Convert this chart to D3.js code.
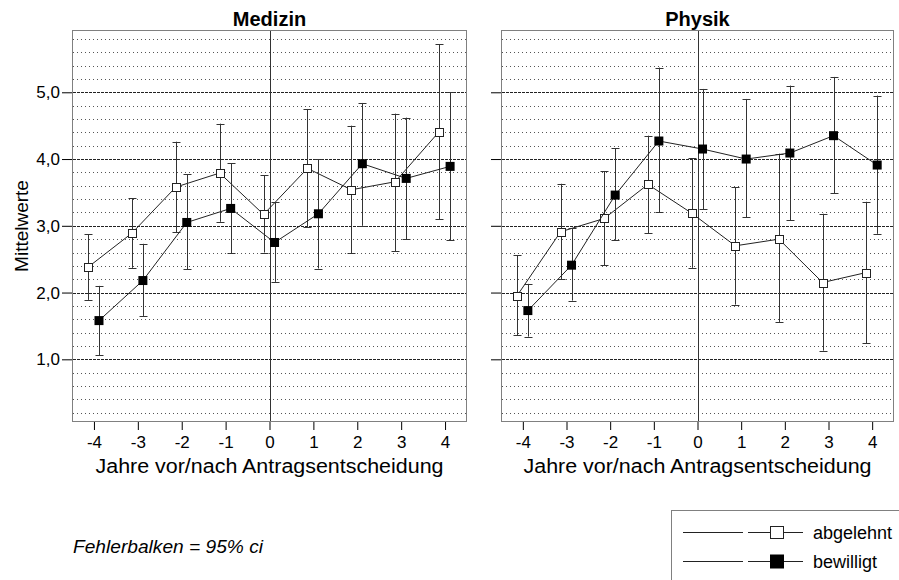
<!DOCTYPE html>
<html>
<head>
<meta charset="utf-8">
<script src="https://cdn.jsdelivr.net/npm/d3@7"></script>
<style>
  html, body { margin: 0; padding: 0; background: #fff; }
  svg { display: block; font-family: Arial, "Liberation Sans", sans-serif; }
</style>
</head>
<body>
<svg id="chart" width="899" height="580"></svg>
<script>
// ---------- data ----------
const years = [-4, -3, -2, -1, 0, 1, 2, 3, 4];
const yTicks = [1, 2, 3, 4, 5];
const yTickLabels = ["1,0", "2,0", "3,0", "4,0", "5,0"];
const panelTitles = ["Medizin", "Physik"];
const seriesNames = ["abgelehnt", "bewilligt"];

const medizinAbgelehnt   = [2.38, 2.89, 3.58, 3.79, 3.17, 3.86, 3.54, 3.66, 4.41];
const medizinAbgelehntLo = [1.89, 2.37, 2.90, 3.06, 2.60, 2.98, 2.59, 2.62, 3.10];
const medizinAbgelehntHi = [2.87, 3.41, 4.26, 4.53, 3.76, 4.75, 4.50, 4.68, 5.72];
const medizinBewilligt   = [1.58, 2.18, 3.05, 3.26, 2.75, 3.18, 3.93, 3.71, 3.89];
const medizinBewilligtLo = [1.06, 1.65, 2.35, 2.59, 2.16, 2.36, 3.00, 2.80, 2.78];
const medizinBewilligtHi = [2.10, 2.73, 3.77, 3.94, 3.35, 4.00, 4.84, 4.62, 5.00];

const physikAbgelehnt   = [1.95, 2.91, 3.11, 3.62, 3.19, 2.70, 2.80, 2.15, 2.30];
const physikAbgelehntLo = [1.36, 2.20, 2.41, 2.89, 2.37, 1.82, 1.56, 1.13, 1.24];
const physikAbgelehntHi = [2.56, 3.63, 3.82, 4.35, 4.01, 3.58, 4.08, 3.18, 3.36];
const physikBewilligt   = [1.73, 2.41, 3.46, 4.27, 4.15, 4.00, 4.09, 4.35, 3.91];
const physikBewilligtLo = [1.34, 1.88, 2.79, 3.20, 3.25, 3.13, 3.08, 3.49, 2.88];
const physikBewilligtHi = [2.13, 2.96, 4.16, 5.37, 5.05, 4.90, 5.10, 5.23, 4.95];

// ---------- layout ----------
const svg = d3.select("#chart");
const plotTop = 30, plotBottom = 422;
const panels = [
  { title: panelTitles[0], x0: 72, x1: 467,
    series: [
      { name: seriesNames[0], mean: medizinAbgelehnt, lo: medizinAbgelehntLo, hi: medizinAbgelehntHi, filled: false, off: -0.135 },
      { name: seriesNames[1], mean: medizinBewilligt, lo: medizinBewilligtLo, hi: medizinBewilligtHi, filled: true, off: 0.115 }
    ], labels: true },
  { title: panelTitles[1], x0: 501, x1: 894,
    series: [
      { name: seriesNames[0], mean: physikAbgelehnt, lo: physikAbgelehntLo, hi: physikAbgelehntHi, filled: false, off: -0.135 },
      { name: seriesNames[1], mean: physikBewilligt, lo: physikBewilligtLo, hi: physikBewilligtHi, filled: true, off: 0.115 }
    ], labels: false }
];

const y = d3.scaleLinear().domain([0.061, 5.933]).range([plotBottom, plotTop]);
const minorTicks = d3.range(1, 30).map(i => i / 5).filter(v => Math.abs(v - Math.round(v)) > 1e-6);

panels.forEach(p => {
  const x = d3.scaleLinear().domain([-4.5, 4.5]).range([p.x0, p.x1]);
  const g = svg.append("g");

  // minor grid
  g.selectAll(".minor").data(minorTicks).enter().append("line")
    .attr("x1", p.x0 + 1).attr("x2", p.x1 - 1)
    .attr("y1", d => Math.round(y(d)) + 0.5).attr("y2", d => Math.round(y(d)) + 0.5)
    .attr("stroke", "#555").attr("stroke-width", 1).attr("stroke-dasharray", "1,3");
  // major grid
  g.selectAll(".major").data(yTicks).enter().append("line")
    .attr("x1", p.x0 + 1).attr("x2", p.x1 - 1)
    .attr("y1", d => Math.round(y(d)) + 0.5).attr("y2", d => Math.round(y(d)) + 0.5)
    .attr("stroke", "#222").attr("stroke-width", 1).attr("stroke-dasharray", "3,1");

  // zero line
  g.append("line")
    .attr("x1", Math.round(x(0)) + 0.5).attr("x2", Math.round(x(0)) + 0.5)
    .attr("y1", plotTop).attr("y2", plotBottom)
    .attr("stroke", "#333").attr("stroke-width", 1);

  // frame
  g.append("rect")
    .attr("x", p.x0 + 0.5).attr("y", plotTop + 0.5)
    .attr("width", p.x1 - p.x0 - 1).attr("height", plotBottom - plotTop - 1)
    .attr("fill", "none").attr("stroke", "#808080").attr("stroke-width", 1);

  // x axis
  const xAxis = d3.axisBottom(x).tickValues(years).tickSize(8).tickPadding(6).tickFormat(d3.format("d"));
  const xa = g.append("g").attr("transform", `translate(0,${plotBottom})`).call(xAxis);
  xa.select(".domain").remove();
  xa.selectAll("line").attr("stroke", "#000");
  xa.selectAll("text").attr("font-size", 17).attr("fill", "#000")
    .text(d => d < 0 ? "-" + Math.abs(d) : d);

  // y axis
  const yAxis = d3.axisLeft(y).tickValues(yTicks).tickSize(10).tickPadding(2)
    .tickFormat((d, i) => p.labels ? yTickLabels[i] : "");
  const ya = g.append("g").attr("transform", `translate(${p.x0},0)`).call(yAxis);
  ya.select(".domain").remove();
  ya.selectAll("line").attr("stroke", "#000");
  ya.selectAll("text").attr("font-size", 17).attr("fill", "#000");

  // title
  g.append("text").attr("x", (p.x0 + p.x1) / 2).attr("y", 26)
    .attr("text-anchor", "middle").attr("font-size", 20).attr("font-weight", "bold")
    .text(p.title);

  // x axis title
  g.append("text").attr("x", (p.x0 + p.x1) / 2).attr("y", 473)
    .attr("text-anchor", "middle").attr("font-size", 20)
    .attr("textLength", 348).attr("lengthAdjust", "spacingAndGlyphs")
    .text("Jahre vor/nach Antragsentscheidung");

  // series
  p.series.forEach(s => {
    const pts = years.map((yr, i) => ({ x: x(yr + s.off), m: s.mean[i], lo: s.lo[i], hi: s.hi[i] }));
    const line = d3.line().x(d => d.x).y(d => y(d.m));
    g.append("path").datum(pts).attr("d", line)
      .attr("fill", "none").attr("stroke", "#222").attr("stroke-width", 1);

    const eb = g.append("g");
    pts.forEach(d => {
      const cx = Math.round(d.x) + 0.5;
      eb.append("line").attr("x1", cx).attr("x2", cx).attr("y1", y(d.hi)).attr("y2", y(d.lo))
        .attr("stroke", "#333").attr("stroke-width", 1);
      [d.hi, d.lo].forEach(v => {
        eb.append("line").attr("x1", cx - 4).attr("x2", cx + 4)
          .attr("y1", Math.round(y(v)) + 0.5).attr("y2", Math.round(y(v)) + 0.5)
          .attr("stroke", "#333").attr("stroke-width", 1);
      });
    });

    const mk = g.append("g");
    pts.forEach(d => {
      if (s.filled) {
        mk.append("rect").attr("x", d.x - 4.5).attr("y", y(d.m) - 4.5)
          .attr("width", 9).attr("height", 9).attr("fill", "#000");
      } else {
        mk.append("rect").attr("x", Math.round(d.x) - 3.5).attr("y", Math.round(y(d.m)) - 3.5)
          .attr("width", 8).attr("height", 8).attr("fill", "#fff")
          .attr("stroke", "#222").attr("stroke-width", 1);
      }
    });
  });
});

// y axis title
svg.append("text")
  .attr("transform", `translate(28,${(plotTop + plotBottom) / 2}) rotate(-90)`)
  .attr("text-anchor", "middle").attr("font-size", 19)
  .text("Mittelwerte");

// footnote
svg.append("text").attr("x", 73).attr("y", 553)
  .attr("font-size", 19).attr("font-style", "italic")
  .attr("textLength", 190).attr("lengthAdjust", "spacingAndGlyphs")
  .text("Fehlerbalken = 95% ci");

// legend
const lg = svg.append("g");
lg.append("rect").attr("x", 671.5).attr("y", 510.5).attr("width", 240).attr("height", 100)
  .attr("fill", "#fff").attr("stroke", "#808080").attr("stroke-width", 1);
const legendRows = [532, 561];
seriesNames.forEach((name, i) => {
  const ry = legendRows[i] + 0.5;
  lg.append("line").attr("x1", 683).attr("x2", 743).attr("y1", ry).attr("y2", ry).attr("stroke", "#222");
  lg.append("line").attr("x1", 748).attr("x2", 803).attr("y1", ry).attr("y2", ry).attr("stroke", "#222");
  if (i === 0) {
    lg.append("rect").attr("x", 770.5).attr("y", ry - 6).attr("width", 13).attr("height", 12)
      .attr("fill", "#fff").attr("stroke", "#222");
  } else {
    lg.append("rect").attr("x", 770).attr("y", ry - 7).attr("width", 14).attr("height", 14)
      .attr("fill", "#000");
  }
  lg.append("text").attr("x", 813).attr("y", ry).attr("dy", "0.35em")
    .attr("font-size", 18).text(name);
});
</script>
</body>
</html>
